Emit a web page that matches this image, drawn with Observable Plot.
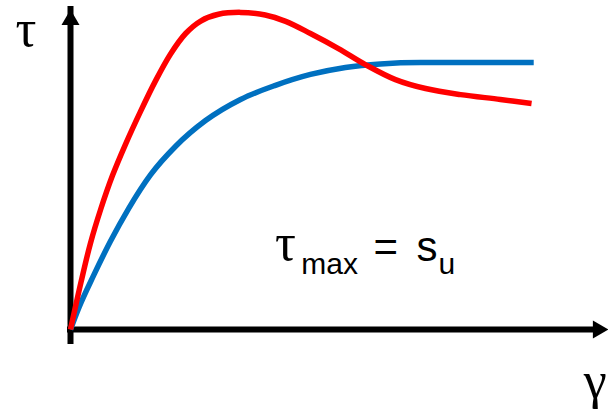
<!DOCTYPE html>
<html>
<head>
<meta charset="utf-8">
<script src="https://cdn.jsdelivr.net/npm/d3@7"></script>
<script src="https://cdn.jsdelivr.net/npm/@observablehq/plot@0.6"></script>
<style>
  html, body { margin: 0; padding: 0; background: #fff; }
</style>
</head>
<body>
<div id="chart"></div>
<script>
// Shear stress–strain sketch: a peaked (strain-softening) curve and a
// monotonic (strain-hardening) curve, in arbitrary units.

// Peaked curve (red)
const strainPeak = [0, 0.19, 0.37, 0.56, 0.78, 1.02, 1.30, 1.58, 1.86, 2.14, 2.42, 2.75, 3.16, 3.62, 4.00, 4.46, 4.98, 5.48, 6.04, 6.60, 7.25, 7.99, 8.57];
const stressPeak = [0, 1.44, 2.69, 3.75, 4.81, 5.78, 6.81, 7.77, 8.61, 9.25, 9.64, 9.85, 9.91, 9.83, 9.63, 9.25, 8.78, 8.28, 7.81, 7.53, 7.34, 7.19, 7.06];

// Monotonic curve (blue)
const strainMono = [0, 0.15, 0.43, 0.74, 1.08, 1.49, 1.95, 2.51, 3.16, 3.81, 4.46, 5.11, 5.76, 6.51, 8.61];
const stressMono = [0, 0.66, 1.69, 2.75, 3.78, 4.84, 5.72, 6.53, 7.19, 7.63, 7.97, 8.19, 8.30, 8.34, 8.34];

// Axis extents
const strainMax = 10;
const stressMax = 10;

// Text labels
const axisLabels = [
  {text: "τ", x: -1.02, y: 8.875},
  {text: "γ", x: 9.54, y: -2.13}
];
const formulaTau = [{text: "τ", x: 3.80, y: 2.16}];
const formulaMain = [
  {text: "=", x: 5.63, y: 2.13},
  {text: "s", x: 6.43, y: 2.13}
];
const formulaSub = [
  {text: "max", x: 4.29, y: 1.75},
  {text: "u", x: 6.84, y: 1.75}
];

const peakRows = d3.zip(strainPeak, stressPeak).map(([x, y]) => ({x, y}));
const monoRows = d3.zip(strainMono, stressMono).map(([x, y]) => ({x, y}));

const sans = "'Liberation Sans', Arial, sans-serif";
const serif = "'Liberation Serif', 'Times New Roman', serif";
const textBase = {x: "x", y: "y", text: "text", textAnchor: "start", lineAnchor: "bottom", fill: "black"};

const chart = Plot.plot({
  width: 608,
  height: 416,
  marginLeft: 70,
  marginRight: 0,
  marginTop: 9,
  marginBottom: 87,
  x: {domain: [0, strainMax], axis: null},
  y: {domain: [0, stressMax], axis: null},
  marks: [
    // axes with filled arrowheads
    Plot.ruleY([0], {x1: 0, x2: strainMax, stroke: "black", strokeWidth: 6, strokeLinecap: "square", insetRight: 12}),
    Plot.ruleX([0], {y1: 0, y2: stressMax, stroke: "black", strokeWidth: 6, strokeLinecap: "square", insetTop: 12}),
    Plot.dot([{x: 0, y: stressMax}], {x: "x", y: "y", symbol: "triangle2", r: 8.6, fill: "black", stroke: null, dy: 10.4}),
    Plot.dot([{x: strainMax, y: 0}], {x: "x", y: "y", symbol: "triangle2", r: 8.6, fill: "black", stroke: null, rotate: 90, dx: -10.4}),
    // curves
    Plot.line(monoRows, {x: "x", y: "y", stroke: "#0070C0", strokeWidth: 5.5, curve: "monotone-x", strokeLinecap: "butt"}),
    Plot.line(peakRows, {x: "x", y: "y", stroke: "#FF0000", strokeWidth: 5.5, curve: "catmull-rom", strokeLinecap: "butt"}),
    // labels
    Plot.text(axisLabels, {...textBase, fontSize: 52, fontFamily: serif}),
    Plot.text(formulaTau, {...textBase, fontSize: 52, fontFamily: serif}),
    Plot.text(formulaMain, {...textBase, fontSize: 42, fontFamily: sans}),
    Plot.text(formulaSub, {...textBase, fontSize: 30, fontFamily: sans})
  ]
});

document.getElementById("chart").append(chart);
</script>
</body>
</html>
